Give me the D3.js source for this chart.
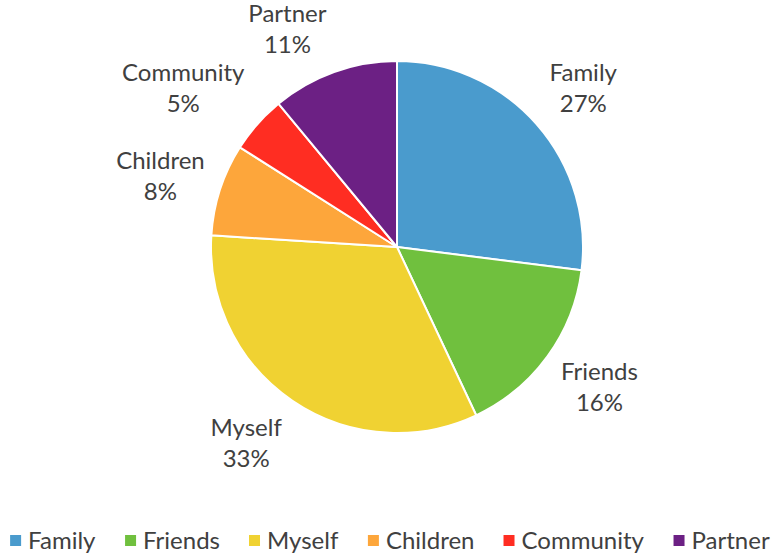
<!DOCTYPE html>
<html>
<head>
<meta charset="utf-8">
<script src="https://cdn.jsdelivr.net/npm/d3@7"></script>
<style>
  html, body { margin: 0; padding: 0; background: #fff; }
  svg { display: block; font-family: Lato, "Open Sans", sans-serif; }
</style>
</head>
<body>
<svg id="chart" width="772" height="556"></svg>
<script>
// Share of responses by category
const categories = ["Family", "Friends", "Myself", "Children", "Community", "Partner"];
const values = [27, 16, 33, 8, 5, 11];
const colors = ["#4a9bcd", "#70c03e", "#f0d232", "#fda63b", "#ff2d22", "#6c2084"];

const width = 772, height = 556;
const cx = 397, cy = 247, radius = 186;
const anchorRadius = 199;   // label boxes are hung off this circle along each mid-angle
const fontSize = 24;
const lineGap = 31;
const textColor = "#404040";

const svg = d3.select("#chart");
const data = categories.map((c, i) => ({ name: c, value: values[i], color: colors[i] }));
const total = d3.sum(values);

const pie = d3.pie().value(d => d.value).sort(null);
const arcs = pie(data);
const arc = d3.arc().innerRadius(0).outerRadius(radius);

const g = svg.append("g").attr("transform", `translate(${cx},${cy})`);

g.selectAll("path.slice")
  .data(arcs)
  .join("path")
  .attr("class", "slice")
  .attr("d", arc)
  .attr("fill", d => d.data.color)
  .attr("stroke", "#fff")
  .attr("stroke-width", 2)
  .attr("stroke-linejoin", "round");

// Outside data labels: name on the first line, percentage below
const labels = g.selectAll("g.label")
  .data(arcs)
  .join("g")
  .attr("class", "label");

labels.append("text")
  .attr("text-anchor", "middle")
  .attr("y", -lineGap / 2)
  .attr("dy", "0.36em")
  .attr("fill", textColor)
  .attr("font-size", fontSize)
  .text(d => d.data.name);

labels.append("text")
  .attr("text-anchor", "middle")
  .attr("y", lineGap / 2)
  .attr("dy", "0.36em")
  .attr("fill", textColor)
  .attr("font-size", fontSize)
  .text(d => Math.round(d.data.value / total * 100) + "%");

// Push each label box outward from its anchor point: a full half-width sideways,
// and vertically in proportion to how steep the mid-angle ray is
labels.attr("transform", function (d) {
  const a = (d.startAngle + d.endAngle) / 2;
  const s = Math.sin(a), c = Math.cos(a);
  const w = this.getBBox().width;
  const h = lineGap * 2;
  const px = anchorRadius * s, py = -anchorRadius * c;
  const ky = Math.max(-1, Math.min(1, c / Math.abs(s)));
  const x = px + Math.sign(s) * (w / 2 + 3);
  const y = py - ky * h / 2;
  return `translate(${x},${y})`;
});

// Legend along the bottom, centred
const legend = svg.append("g").attr("class", "legend");
const items = legend.selectAll("g.item")
  .data(data)
  .join("g")
  .attr("class", "item");

items.append("rect")
  .attr("width", 11)
  .attr("height", 11)
  .attr("y", -5.5)
  .attr("fill", d => d.color);

items.append("text")
  .attr("x", 18)
  .attr("dy", "0.36em")
  .attr("fill", textColor)
  .attr("font-size", fontSize)
  .text(d => d.name);

const gap = 29;
let x = 0;
items.each(function () {
  d3.select(this).attr("data-w", this.getBBox().width);
});
items.attr("transform", function () {
  const w = +d3.select(this).attr("data-w");
  const t = `translate(${x},0)`;
  x += w + gap;
  return t;
});
const legendWidth = x - gap;
legend.attr("transform", `translate(${(width - legendWidth) / 2 + 4},540.5)`);
</script>
</body>
</html>
